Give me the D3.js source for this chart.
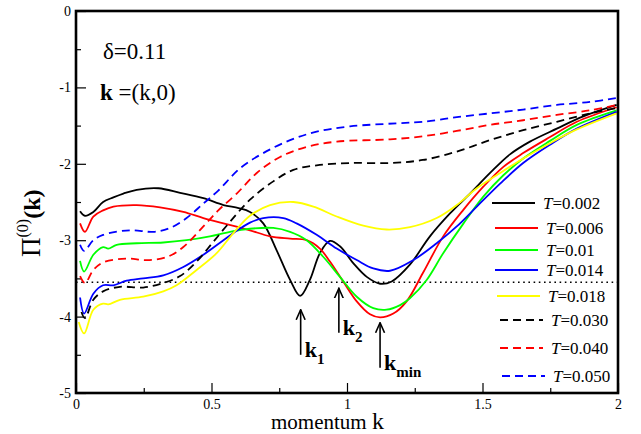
<!DOCTYPE html>
<html>
<head>
<meta charset="utf-8">
<script src="https://cdn.jsdelivr.net/npm/d3@7"></script>
<style>
  body { margin: 0; background: #fff; }
  .curve { fill: none; stroke-width: 1.8px; }
</style>
</head>
<body>
<div id="chart"></div>
<script>
// values: [k, Pi(k)]
const t002 = [[0.015,-2.62],[0.033,-2.68],[0.064,-2.63],[0.10,-2.50],[0.138,-2.44],[0.175,-2.39],[0.224,-2.34],[0.304,-2.32],[0.384,-2.38],[0.47,-2.45],[0.544,-2.54],[0.60,-2.58],[0.642,-2.63],[0.691,-2.78],[0.74,-3.13],[0.79,-3.52],[0.827,-3.73],[0.863,-3.52],[0.90,-3.17],[0.937,-3.01],[0.974,-3.08],[1.023,-3.30],[1.073,-3.48],[1.122,-3.57],[1.165,-3.54],[1.232,-3.32],[1.306,-2.95],[1.38,-2.65],[1.454,-2.39],[1.528,-2.12],[1.60,-1.88],[1.675,-1.71],[1.774,-1.54],[1.872,-1.38],[1.995,-1.23]];
const t006 = [[0.015,-2.78],[0.033,-2.89],[0.064,-2.69],[0.10,-2.61],[0.138,-2.56],[0.224,-2.54],[0.31,-2.57],[0.396,-2.63],[0.47,-2.71],[0.544,-2.78],[0.60,-2.83],[0.642,-2.87],[0.716,-2.95],[0.79,-2.98],[0.851,-3.00],[0.90,-3.11],[0.937,-3.28],[0.986,-3.54],[1.036,-3.80],[1.085,-3.97],[1.122,-4.01],[1.171,-3.96],[1.22,-3.80],[1.28,-3.43],[1.355,-2.95],[1.43,-2.60],[1.503,-2.30],[1.577,-2.04],[1.65,-1.86],[1.749,-1.65],[1.848,-1.45],[1.995,-1.26]];
const t010 = [[0.015,-3.27],[0.03,-3.41],[0.064,-3.19],[0.10,-3.09],[0.119,-3.11],[0.15,-3.06],[0.224,-3.04],[0.322,-3.03],[0.408,-3.00],[0.494,-2.95],[0.568,-2.89],[0.642,-2.85],[0.728,-2.84],[0.79,-2.89],[0.851,-3.00],[0.913,-3.22],[0.974,-3.48],[1.036,-3.74],[1.097,-3.89],[1.146,-3.91],[1.196,-3.85],[1.232,-3.76],[1.294,-3.52],[1.355,-3.17],[1.43,-2.78],[1.503,-2.43],[1.577,-2.15],[1.65,-1.93],[1.749,-1.70],[1.848,-1.49],[1.995,-1.30]];
const t014 = [[0.015,-3.75],[0.03,-3.96],[0.064,-3.70],[0.10,-3.59],[0.138,-3.59],[0.187,-3.53],[0.248,-3.50],[0.322,-3.46],[0.396,-3.35],[0.47,-3.19],[0.544,-3.00],[0.60,-2.86],[0.642,-2.77],[0.691,-2.71],[0.765,-2.71],[0.814,-2.78],[0.888,-2.93],[0.962,-3.11],[1.036,-3.26],[1.097,-3.37],[1.159,-3.40],[1.245,-3.26],[1.331,-3.04],[1.405,-2.82],[1.479,-2.56],[1.565,-2.26],[1.65,-1.99],[1.749,-1.75],[1.848,-1.54],[1.995,-1.32]];
const t018 = [[0.01,-4.07],[0.03,-4.22],[0.064,-3.91],[0.10,-3.83],[0.119,-3.84],[0.162,-3.78],[0.248,-3.74],[0.322,-3.67],[0.371,-3.59],[0.445,-3.39],[0.519,-3.17],[0.58,-2.91],[0.642,-2.68],[0.716,-2.54],[0.802,-2.50],[0.876,-2.56],[0.962,-2.69],[1.06,-2.81],[1.146,-2.86],[1.232,-2.83],[1.331,-2.71],[1.405,-2.54],[1.479,-2.32],[1.552,-2.15],[1.65,-1.93],[1.749,-1.73],[1.848,-1.55],[1.995,-1.34]];
const t030 = [[0.02,-3.94],[0.033,-4.02],[0.064,-3.78],[0.10,-3.67],[0.162,-3.61],[0.248,-3.62],[0.322,-3.56],[0.384,-3.47],[0.445,-3.28],[0.507,-3.02],[0.568,-2.76],[0.642,-2.47],[0.728,-2.23],[0.802,-2.08],[0.888,-2.02],[1.011,-1.99],[1.159,-1.99],[1.28,-1.95],[1.405,-1.84],[1.528,-1.69],[1.65,-1.56],[1.774,-1.45],[1.897,-1.34],[1.995,-1.27]];
const t040 = [[0.015,-3.47],[0.033,-3.56],[0.064,-3.39],[0.10,-3.29],[0.187,-3.24],[0.261,-3.26],[0.335,-3.22],[0.396,-3.09],[0.47,-2.82],[0.525,-2.61],[0.593,-2.39],[0.667,-2.12],[0.753,-1.91],[0.851,-1.78],[0.962,-1.71],[1.159,-1.68],[1.28,-1.64],[1.405,-1.57],[1.528,-1.49],[1.65,-1.43],[1.774,-1.36],[1.897,-1.30],[1.995,-1.23]];
const t050 = [[0.015,-3.06],[0.03,-3.14],[0.064,-3.00],[0.10,-2.93],[0.199,-2.87],[0.285,-2.89],[0.347,-2.84],[0.408,-2.71],[0.47,-2.52],[0.525,-2.35],[0.605,-2.06],[0.691,-1.86],[0.79,-1.69],[0.888,-1.58],[1.011,-1.51],[1.183,-1.47],[1.28,-1.45],[1.405,-1.39],[1.528,-1.34],[1.65,-1.29],[1.774,-1.23],[1.897,-1.19],[1.995,-1.14]];

const temps = ["0.002","0.006","0.01","0.014","0.018","0.030","0.040","0.050"];
const seriesData = [t002, t006, t010, t014, t018, t030, t040, t050];
const xTicks = [0, 0.5, 1, 1.5, 2];
const yTicks = [0, -1, -2, -3, -4, -5];
const threshold = -3.55;
// arrows: [subscript, k, tip, tail]
const marks = [["1", 0.829, -3.91, -4.50], ["2", 0.970, -3.63, -4.21], ["min", 1.122, -4.08, -4.67]];

const colors = ["#000", "#ff0000", "#00ff00", "#0000ff", "#ffff00", "#000", "#ff0000", "#0000ff"];
const dashed = [false, false, false, false, false, true, true, true];

var margin = {top: 11, right: 23, bottom: 41, left: 76},
    width = 641 - margin.left - margin.right,
    height = 434 - margin.top - margin.bottom;

var svg = d3.select("#chart")
  .append("svg")
    .attr("width", 641)
    .attr("height", 434)
  .append("g")
    .attr("transform", "translate(" + margin.left + "," + margin.top + ")");

var x = d3.scaleLinear().domain([0, 2]).range([0, width]);
var y = d3.scaleLinear().domain([-5, 0]).range([height, 0]);

// minor ticks
svg.append("g")
  .attr("transform", "translate(0," + height + ")")
  .call(d3.axisBottom(x).tickValues([0.25, 0.75, 1.25, 1.75]).tickSize(-5).tickFormat(""))
  .call(g => g.select(".domain").remove());
svg.append("g")
  .call(d3.axisLeft(y).tickValues([-0.5, -1.5, -2.5, -3.5, -4.5]).tickSize(-5).tickFormat(""))
  .call(g => g.select(".domain").remove());

// major ticks
svg.append("g")
  .attr("transform", "translate(0," + height + ")")
  .call(d3.axisBottom(x).tickValues(xTicks).tickSize(-10).tickPadding(6).tickFormat(d => d))
  .call(g => g.select(".domain").remove());
svg.append("g")
  .call(d3.axisLeft(y).tickValues(yTicks).tickSize(-10).tickPadding(5).tickFormat(d => d === 0 ? "0" : "-" + Math.abs(d)))
  .call(g => g.select(".domain").remove());

svg.selectAll(".tick line").attr("stroke", "#000").attr("stroke-width", 1.2);
svg.selectAll(".tick text").attr("font-size", 14);

// dotted reference line
svg.append("path")
  .attr("d", d3.line()([[0, y(threshold)], [width, y(threshold)]]))
  .attr("stroke", "#000")
  .attr("stroke-width", 1.6)
  .attr("stroke-dasharray", "1.6,3.6");

// curves
var line = d3.line()
  .x(d => x(d[0]))
  .y(d => y(d[1]))
  .curve(d3.curveCatmullRom.alpha(0.5));

seriesData.forEach(function(data, i) {
  svg.append("path")
    .datum(data)
    .attr("class", "curve")
    .attr("stroke", colors[i])
    .attr("stroke-dasharray", dashed[i] ? "8,5" : null)
    .attr("d", line);
});

// frame
svg.append("rect")
  .attr("width", width)
  .attr("height", height)
  .attr("fill", "none")
  .attr("stroke", "#000")
  .attr("stroke-width", 2.6);

// legend
var legendY = [192, 217, 239, 259, 285, 309, 337, 365];
var legendX = [416, 419, 419, 419, 421, 424, 424, 426];
var legend = svg.append("g");
temps.forEach(function(t, i) {
  legend.append("line")
    .attr("x1", legendX[i]).attr("x2", legendX[i] + 43)
    .attr("y1", legendY[i]).attr("y2", legendY[i])
    .attr("stroke", colors[i])
    .attr("stroke-width", 1.8)
    .attr("stroke-dasharray", dashed[i] ? "8,5" : null);
  var tx = legend.append("text")
    .attr("x", legendX[i] + 51)
    .attr("y", legendY[i] + 6)
    .attr("font-size", 17);
  tx.append("tspan").attr("font-style", "italic").text("T");
  tx.append("tspan").text("=" + t);
});

// arrows
svg.append("defs").append("marker")
  .attr("id", "head")
  .attr("viewBox", "0 0 10 10")
  .attr("refX", 9).attr("refY", 5)
  .attr("markerWidth", 7).attr("markerHeight", 7)
  .attr("orient", "auto")
  .append("path")
    .attr("d", "M0,1 L9,5 L0,9")
    .attr("fill", "none")
    .attr("stroke", "#000")
    .attr("stroke-width", 1.4);

marks.forEach(function(m) {
  svg.append("line")
    .attr("x1", x(m[1])).attr("x2", x(m[1]))
    .attr("y1", y(m[3])).attr("y2", y(m[2]))
    .attr("stroke", "#000")
    .attr("stroke-width", 1.6)
    .attr("marker-end", "url(#head)");
  var t = svg.append("text")
    .attr("x", x(m[1]) + 4)
    .attr("y", y(m[3]) + 2)
    .attr("font-weight", "bold")
    .attr("font-size", 22);
  t.append("tspan").text("k");
  t.append("tspan").attr("dy", 7).attr("font-size", 15).text(m[0]);
});

// annotations
svg.append("text")
  .attr("x", 27).attr("y", 48)
  .attr("font-size", 23)
  .text("\u03b4=0.11");
var kt = svg.append("text")
  .attr("x", 24).attr("y", 89)
  .attr("font-size", 23);
kt.append("tspan").attr("font-weight", "bold").text("k");
kt.append("tspan").text(" =(k,0)");

// axis labels
var xl = svg.append("text")
  .attr("x", 195).attr("y", height + 36)
  .attr("font-size", 21);
xl.append("tspan").text("momentum ");
xl.append("tspan").attr("font-size", 24).text("k");

var yl = svg.append("text")
  .attr("transform", "translate(" + (40 - margin.left) + "," + 246 + ") rotate(-90)")
  .attr("font-size", 27);
yl.append("tspan").text("\u03a0");
yl.append("tspan").attr("dy", -12).attr("font-size", 16).text("(0)");
yl.append("tspan").attr("dy", 12).attr("font-weight", "bold").attr("font-size", 24).text("(k)");

// serif everywhere
d3.selectAll("svg g").attr("font-family", null);
d3.selectAll("svg text").attr("font-family", "Liberation Serif");
</script>
</body>
</html>
